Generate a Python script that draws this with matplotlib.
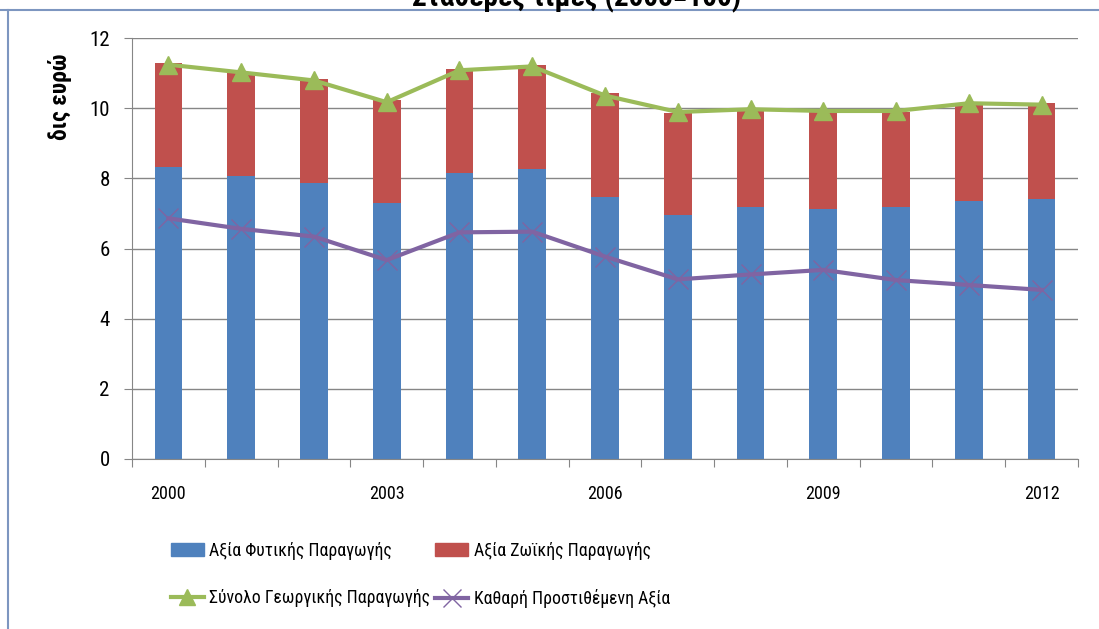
import matplotlib
matplotlib.use("Agg")
import matplotlib.pyplot as plt
from matplotlib.lines import Line2D
from matplotlib.patches import Patch
import numpy as np

plt.rcParams['font.family'] = ['Roboto Condensed', 'Liberation Sans', 'DejaVu Sans']

# Γεωργική παραγωγή, δις ευρώ (σταθερές τιμές)
years = [2000, 2001, 2002, 2003, 2004, 2005, 2006, 2007, 2008, 2009, 2010, 2011, 2012]
year_labels = ['2000', '', '', '2003', '', '', '2006', '', '', '2009', '', '', '2012']
crop = [8.32, 8.08, 7.86, 7.29, 8.14, 8.26, 7.46, 6.95, 7.17, 7.12, 7.17, 7.35, 7.40]
livestock = [2.96, 2.96, 2.96, 2.94, 2.97, 2.97, 2.96, 2.90, 2.78, 2.78, 2.73, 2.74, 2.74]
total = [11.24, 11.02, 10.79, 10.17, 11.08, 11.19, 10.36, 9.89, 9.97, 9.92, 9.92, 10.14, 10.10]
net_value = [6.86, 6.56, 6.34, 5.67, 6.46, 6.48, 5.77, 5.12, 5.26, 5.39, 5.10, 4.96, 4.82]

C_BLUE = '#4f81bd'
C_RED = '#c0504d'
C_GREEN = '#9bbb59'
C_PURPLE = '#8064a2'
C_GRID = '#868686'

W, H = 1099, 629
fig = plt.figure(figsize=(W / 100, H / 100), dpi=100)
ax = fig.add_axes([132 / W, (H - 459) / H, 946 / W, 421 / H])

x = np.arange(len(years))
ax.bar(x, crop, width=0.38, color=C_BLUE, zorder=2)
ax.bar(x, livestock, width=0.38, bottom=crop, color=C_RED, zorder=2)
ax.plot(x, total, color=C_GREEN, lw=3, marker='^', markersize=13, zorder=3)
ax.plot(x, net_value, color=C_PURPLE, lw=3, marker='x', markersize=14, mew=1, zorder=3)

ax.set_xlim(-0.5, len(years) - 0.5)
ax.set_ylim(0, 12)
ax.set_yticks(range(0, 13, 2))
ax.grid(axis='y', color=C_GRID, lw=1, zorder=0)

# ticks στα όρια των κατηγοριών, ετικέτες στο κέντρο
ax.set_xticks(np.arange(-0.5, len(years)))
ax.set_xticklabels([])
ax.set_xticks(x, minor=True)
ax.set_xticklabels(year_labels, minor=True, fontsize=13)
ax.tick_params(axis='x', which='major', length=6, color=C_GRID, direction='out')
ax.tick_params(axis='x', which='minor', length=0, pad=19)
ax.tick_params(axis='y', length=6, color=C_GRID, direction='out', pad=10, labelsize=15)

for side in ['top', 'right']:
    ax.spines[side].set_visible(False)
for side in ['left', 'bottom']:
    ax.spines[side].set_color(C_GRID)

fig.text(60 / W, 1 - 97 / H, 'δις ευρώ', rotation=90, ha='center', va='center',
         fontsize=17, fontweight='bold')
fig.text(577 / W, 1 - 5 / H, 'Σταθερές τιμές (2005=100)', ha='center', va='baseline',
         fontsize=21, fontweight='bold')

# πλαίσιο γραφήματος
frame_c = '#7d96c0'
fig.add_artist(Line2D([0, 1], [1 - 10 / H, 1 - 10 / H], color=frame_c, lw=1.5))
fig.add_artist(Line2D([8 / W, 8 / W], [0, 1 - 10 / H], color=frame_c, lw=1.5))

handles = [
    Patch(color=C_BLUE),
    Line2D([], [], color=C_GREEN, lw=3, marker='^', markersize=12),
    Patch(color=C_RED),
    Line2D([], [], color=C_PURPLE, lw=3, marker='x', markersize=13, mew=1),
]
labels = ['Αξία Φυτικής Παραγωγής', 'Σύνολο Γεωργικής Παραγωγής',
          'Αξία Ζωϊκής Παραγωγής', 'Καθαρή Προστιθέμενη Αξία']
fig.legend(handles, labels, ncol=2, loc='upper left', bbox_to_anchor=(162 / W, 1 - 533 / H),
           frameon=False, fontsize=12.8, handlelength=1.85, handletextpad=0.3,
           columnspacing=0.3, labelspacing=1.65, borderpad=0)

fig.savefig('out.png', dpi=100)
